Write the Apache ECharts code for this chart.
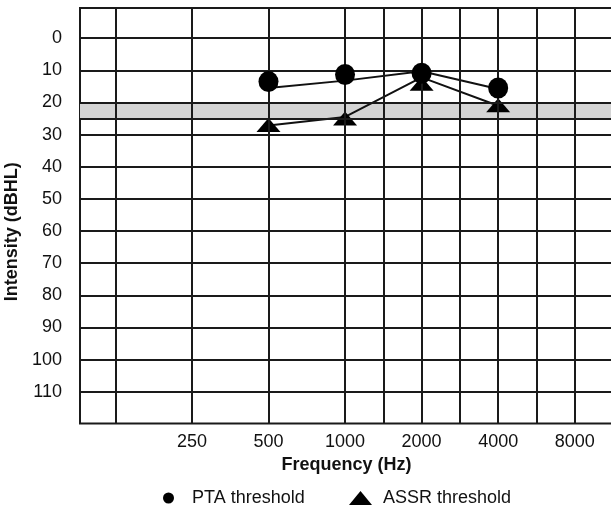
<!DOCTYPE html>
<html>
<head>
<meta charset="utf-8">
<script src="https://cdn.jsdelivr.net/npm/echarts@6/dist/echarts.min.js"></script>
<style>
html,body{margin:0;padding:0;background:#fff;}
#chart{width:611px;height:511px;}
</style>
</head>
<body>
<div id="chart"></div>
<script>
// Octave scale: index 0 = 125 Hz, 1 = 250 Hz, ... 6 = 8000 Hz
const octaveFreqs = [125, 250, 500, 1000, 2000, 4000, 8000];
const tickFreqs = [250, 500, 1000, 2000, 4000, 8000];
// vertical grid lines (octave positions, half-octave lines 1500/3000/6000)
const gridOctaves = [0, 1, 2, 3, 3.5, 4, 4.5, 5, 5.5, 6];
// horizontal grid lines (dB HL)
const gridDb = [0, 10, 20, 25, 30, 40, 50, 60, 70, 80, 90, 100, 110];
const yTicks = [0, 10, 20, 30, 40, 50, 60, 70, 80, 90, 100, 110];
const normalBand = [20, 25];

const testFreqs = [500, 1000, 2000, 4000];
const ptaMarkers = [13.5, 11.3, 10.9, 15.5];
const ptaLine = [15.5, 13.2, 10.3, 15.8];
const assrMarkers = [27, 25, 14.2, 20.9];
const assrLine = [27.2, 24.5, 12.2, 21];

const oct = f => Math.log2(f / 125);
const pairs = (vals) => testFreqs.map((f, i) => [oct(f), vals[i]]);

const FONT = '"Liberation Sans", Arial, Helvetica, sans-serif';
const chart = echarts.init(document.getElementById('chart'), null, {renderer: 'canvas'});

chart.setOption({
  animation: false,
  backgroundColor: '#fff',
  grid: {
    left: 80, right: -2, top: 8, bottom: 87.5,
    outerBoundsMode: 'none', containLabel: false,
    show: true, borderColor: '#1a1a1a', borderWidth: 2, backgroundColor: 'transparent'
  },
  legend: [
    {
      data: [{name: 'PTA threshold', icon: 'circle'}],
      left: 163, top: 488, padding: 0,
      itemWidth: 37, itemHeight: 11,
      selectedMode: false,
      textStyle: {fontFamily: FONT, fontSize: 18, color: '#111', lineHeight: 20}
    },
    {
      data: [{name: 'ASSR threshold', icon: 'triangle'}],
      left: 349, top: 488, padding: 0,
      itemWidth: 23, itemHeight: 14,
      selectedMode: false,
      textStyle: {fontFamily: FONT, fontSize: 18, color: '#111', lineHeight: 20, padding: [0, 0, 0, 6]}
    }
  ],
  xAxis: {
    type: 'value',
    min: -0.462, max: 6.5,
    name: 'Frequency (Hz)',
    nameLocation: 'middle',
    nameGap: 32,
    nameTextStyle: {fontFamily: FONT, fontSize: 18, fontWeight: 'bold', color: '#111'},
    axisLine: {show: false},
    axisTick: {show: false},
    splitLine: {show: false},
    axisLabel: {
      customValues: tickFreqs.map(oct),
      formatter: v => String(octaveFreqs[Math.round(v)]),
      fontFamily: FONT, fontSize: 18, color: '#111', margin: 10
    }
  },
  yAxis: {
    type: 'value',
    inverse: true,
    min: -9.4, max: 119.9,
    name: 'Intensity (dBHL)',
    nameLocation: 'middle',
    nameGap: 55,
    nameRotate: 90,
    nameTextStyle: {fontFamily: FONT, fontSize: 18, fontWeight: 'bold', color: '#111', padding: [0, 32, 0, 0]},
    axisLine: {show: false},
    axisTick: {show: false},
    splitLine: {show: false},
    axisLabel: {
      customValues: yTicks,
      fontFamily: FONT, fontSize: 18, color: '#111', margin: 18
    }
  },
  series: [
    {
      name: 'band', type: 'line', data: [], z: 1, silent: true,
      markArea: {
        silent: true,
        itemStyle: {color: '#d4d4d4'},
        data: [[{yAxis: normalBand[0]}, {yAxis: normalBand[1]}]]
      }
    },
    {
      name: 'grid', type: 'line', data: [], z: 2, silent: true,
      markLine: {
        silent: true, symbol: 'none', animation: false,
        label: {show: false},
        lineStyle: {color: '#1a1a1a', width: 2, type: 'solid'},
        data: gridOctaves.map(x => ({xAxis: x})).concat(gridDb.map(y => ({yAxis: y})))
      }
    },
    {
      name: 'ptaLine', type: 'line', data: pairs(ptaLine), z: 3,
      showSymbol: false, symbol: 'none',
      lineStyle: {color: '#111', width: 2}
    },
    {
      name: 'assrLine', type: 'line', data: pairs(assrLine), z: 3,
      showSymbol: false, symbol: 'none',
      lineStyle: {color: '#111', width: 2}
    },
    {
      name: 'PTA threshold', type: 'scatter', data: pairs(ptaMarkers), z: 5,
      symbol: 'circle', symbolSize: [20, 21],
      itemStyle: {color: '#000', opacity: 1}
    },
    {
      name: 'ASSR threshold', type: 'scatter', data: pairs(assrMarkers), z: 4,
      symbol: 'triangle', symbolSize: [24, 14],
      itemStyle: {color: '#000', opacity: 1}
    }
  ]
});
</script>
</body>
</html>
